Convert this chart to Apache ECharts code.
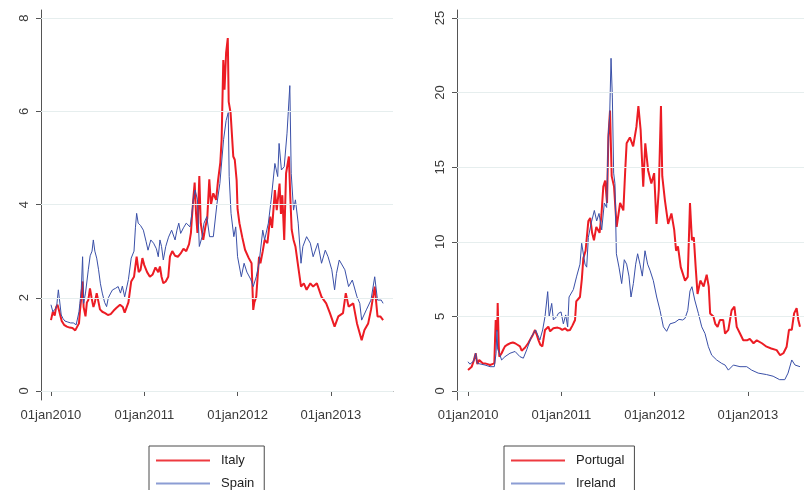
<!DOCTYPE html>
<html>
<head>
<meta charset="utf-8">
<script src="https://cdn.jsdelivr.net/npm/echarts@6/dist/echarts.min.js"></script>
<style>
  html, body { margin: 0; padding: 0; background: #ffffff; }
  #chart { width: 804px; height: 490px; }
</style>
</head>
<body>
<div id="chart"></div>
<script>
// Sovereign spreads, daily, 2010 to mid-2013. Each point is [year + fraction of year, spread].
const italy = [
  [2010.000,1.52],[2010.020,1.70],[2010.040,1.62],[2010.055,1.80],[2010.070,1.85],[2010.090,1.70],
  [2010.115,1.50],[2010.140,1.42],[2010.170,1.38],[2010.200,1.36],[2010.230,1.35],[2010.260,1.30],
  [2010.280,1.28],[2010.300,1.45],[2010.310,1.70],[2010.325,2.00],[2010.339,2.35],[2010.350,1.80],
  [2010.370,1.60],[2010.385,1.90],[2010.400,1.95],[2010.418,2.20],[2010.435,2.00],[2010.455,1.80],
  [2010.470,1.90],[2010.490,2.10],[2010.510,1.90],[2010.525,1.75],[2010.550,1.70],[2010.580,1.67],
  [2010.610,1.63],[2010.640,1.65],[2010.670,1.72],[2010.700,1.78],[2010.720,1.75],[2010.740,1.85],
  [2010.770,1.80],[2010.790,1.68],[2010.810,1.70],[2010.830,1.90],[2010.860,2.35],[2010.890,2.45],
  [2010.918,2.88],[2010.940,2.55],[2010.960,2.60],[2010.980,2.85],[2011.000,2.70],[2011.030,2.55],
  [2011.060,2.45],[2011.090,2.50],[2011.120,2.65],[2011.150,2.55],[2011.168,2.67],[2011.185,2.45],
  [2011.204,2.31],[2011.230,2.35],[2011.257,2.45],[2011.275,2.88],[2011.300,3.00],[2011.330,2.90],
  [2011.360,2.88],[2011.390,2.95],[2011.420,3.05],[2011.450,3.00],[2011.480,3.15],[2011.500,3.39],
  [2011.510,3.70],[2011.525,4.11],[2011.540,4.47],[2011.555,3.80],[2011.570,3.39],[2011.590,4.61],
  [2011.605,3.60],[2011.632,3.24],[2011.655,3.52],[2011.675,3.70],[2011.697,4.54],[2011.715,4.00],
  [2011.740,4.24],[2011.770,4.10],[2011.790,4.50],[2011.815,4.90],[2011.829,5.39],[2011.847,7.10],
  [2011.860,6.46],[2011.877,7.25],[2011.895,7.57],[2011.905,6.20],[2011.925,5.97],[2011.954,5.03],
  [2011.970,4.96],[2011.990,4.52],[2012.000,3.90],[2012.020,3.60],[2012.050,3.30],[2012.080,3.03],
  [2012.120,2.85],[2012.150,2.74],[2012.168,1.74],[2012.180,1.90],[2012.200,2.02],[2012.230,2.88],
  [2012.245,2.74],[2012.270,3.00],[2012.290,3.24],[2012.320,3.17],[2012.350,3.74],[2012.370,3.50],
  [2012.400,4.31],[2012.420,3.88],[2012.450,4.45],[2012.465,3.80],[2012.480,4.20],[2012.500,3.24],
  [2012.520,4.67],[2012.550,5.03],[2012.565,4.17],[2012.580,3.46],[2012.600,3.24],[2012.620,3.10],
  [2012.650,2.67],[2012.680,2.24],[2012.710,2.31],[2012.740,2.17],[2012.780,2.31],[2012.810,2.24],
  [2012.850,2.31],[2012.900,2.02],[2012.950,1.88],[2012.990,1.67],[2013.040,1.38],[2013.080,1.60],
  [2013.130,1.67],[2013.160,2.10],[2013.190,1.81],[2013.240,1.88],[2013.280,1.45],[2013.330,1.09],
  [2013.360,1.31],[2013.400,1.45],[2013.430,1.74],[2013.470,2.24],[2013.500,1.60],[2013.530,1.60],
  [2013.560,1.52]
];

const spain = [
  [2010.000,1.85],[2010.020,1.70],[2010.040,1.75],[2010.060,1.80],[2010.079,2.17],[2010.095,2.17],
  [2010.110,1.63],[2010.130,1.55],[2010.150,1.50],[2010.180,1.48],[2010.210,1.46],[2010.240,1.46],
  [2010.270,1.42],[2010.300,1.70],[2010.310,1.88],[2010.325,2.20],[2010.339,2.88],[2010.350,1.88],
  [2010.370,2.10],[2010.400,2.60],[2010.420,2.90],[2010.440,3.00],[2010.454,3.24],[2010.470,3.00],
  [2010.490,2.85],[2010.510,2.60],[2010.530,2.30],[2010.550,2.10],[2010.575,1.90],[2010.596,1.81],
  [2010.615,2.00],[2010.640,2.10],[2010.660,2.17],[2010.690,2.20],[2010.720,2.24],[2010.745,2.10],
  [2010.765,2.25],[2010.790,2.02],[2010.810,2.00],[2010.830,2.39],[2010.860,2.85],[2010.890,3.00],
  [2010.905,3.50],[2010.918,3.81],[2010.935,3.60],[2010.960,3.55],[2010.990,3.45],[2011.020,3.20],
  [2011.040,3.02],[2011.070,3.24],[2011.100,3.17],[2011.130,3.05],[2011.150,2.88],[2011.168,3.24],
  [2011.185,3.10],[2011.204,2.81],[2011.230,3.10],[2011.260,3.30],[2011.293,3.45],[2011.330,3.24],
  [2011.350,3.45],[2011.370,3.60],[2011.390,3.38],[2011.420,3.50],[2011.450,3.60],[2011.490,3.52],
  [2011.510,3.80],[2011.525,4.11],[2011.545,4.31],[2011.570,4.10],[2011.590,3.10],[2011.620,3.31],
  [2011.640,3.60],[2011.670,3.74],[2011.700,3.31],[2011.740,3.31],[2011.780,4.03],[2011.810,4.45],
  [2011.850,5.39],[2011.877,5.80],[2011.900,5.97],[2011.910,4.60],[2011.930,3.81],[2011.960,3.31],
  [2011.980,3.52],[2012.000,2.88],[2012.040,2.45],[2012.070,2.74],[2012.100,2.55],[2012.140,2.40],
  [2012.168,2.24],[2012.200,2.45],[2012.230,2.74],[2012.270,3.45],[2012.290,3.24],[2012.330,3.60],
  [2012.360,4.10],[2012.400,4.88],[2012.430,4.60],[2012.445,5.31],[2012.460,5.30],[2012.470,4.74],
  [2012.500,4.81],[2012.530,5.53],[2012.560,6.55],[2012.575,4.67],[2012.600,3.88],[2012.620,4.10],
  [2012.650,3.60],[2012.680,2.74],[2012.700,3.10],[2012.740,3.31],[2012.780,3.17],[2012.810,2.88],
  [2012.860,3.17],[2012.900,2.74],[2012.940,3.02],[2012.970,2.88],[2013.010,2.60],[2013.040,2.17],
  [2013.060,2.52],[2013.090,2.81],[2013.150,2.60],[2013.190,2.24],[2013.230,2.38],[2013.280,2.02],
  [2013.310,1.88],[2013.330,1.52],[2013.380,1.74],[2013.430,1.95],[2013.470,2.45],[2013.500,1.95],
  [2013.540,1.95],[2013.560,1.88]
];

const portugal = [
  [2010.000,1.41],[2010.020,1.35],[2010.040,1.63],[2010.060,2.00],[2010.082,2.53],[2010.100,1.80],
  [2010.120,2.08],[2010.140,2.00],[2010.160,1.85],[2010.182,1.85],[2010.210,1.80],[2010.236,1.74],
  [2010.260,1.80],[2010.282,1.85],[2010.290,3.50],[2010.297,4.76],[2010.305,4.00],[2010.314,4.30],
  [2010.318,5.90],[2010.325,6.00],[2010.330,3.00],[2010.336,2.30],[2010.360,2.53],[2010.380,2.80],
  [2010.396,2.99],[2010.420,3.10],[2010.450,3.20],[2010.480,3.25],[2010.504,3.20],[2010.530,3.10],
  [2010.557,2.99],[2010.575,2.70],[2010.593,2.65],[2010.610,2.90],[2010.629,2.99],[2010.645,3.20],
  [2010.664,3.42],[2010.690,3.70],[2010.718,4.09],[2010.735,3.80],[2010.754,3.42],[2010.775,3.10],
  [2010.797,2.99],[2010.810,3.50],[2010.825,4.09],[2010.840,4.20],[2010.861,4.31],[2010.880,4.00],
  [2010.897,4.09],[2010.915,4.20],[2010.932,4.25],[2010.960,4.25],[2010.986,4.20],[2011.010,4.10],
  [2011.040,4.20],[2011.065,4.05],[2011.093,4.09],[2011.120,4.40],[2011.147,4.76],[2011.160,6.00],
  [2011.175,6.10],[2011.200,6.30],[2011.220,7.50],[2011.236,8.90],[2011.260,9.40],[2011.290,11.40],
  [2011.310,11.60],[2011.330,10.60],[2011.350,10.10],[2011.375,11.00],[2011.410,10.60],[2011.430,11.80],
  [2011.450,13.70],[2011.470,14.10],[2011.490,12.60],[2011.504,17.00],[2011.522,18.80],[2011.540,14.40],
  [2011.565,13.70],[2011.593,11.00],[2011.630,12.60],[2011.665,12.10],[2011.685,14.80],[2011.700,16.60],
  [2011.735,17.00],[2011.770,16.40],[2011.805,17.70],[2011.826,19.10],[2011.850,17.50],[2011.878,13.70],
  [2011.900,16.60],[2011.930,14.80],[2011.965,13.90],[2011.995,14.60],[2012.020,11.20],[2012.045,13.50],
  [2012.068,19.10],[2012.082,14.40],[2012.110,12.80],[2012.145,11.20],[2012.180,11.90],[2012.210,10.80],
  [2012.230,9.40],[2012.250,9.70],[2012.280,8.30],[2012.326,7.40],[2012.355,7.65],[2012.379,12.60],
  [2012.400,10.10],[2012.420,10.30],[2012.440,8.30],[2012.460,6.50],[2012.490,7.40],[2012.525,7.00],
  [2012.558,7.80],[2012.580,7.00],[2012.595,5.20],[2012.630,5.00],[2012.650,4.50],[2012.675,4.30],
  [2012.700,4.76],[2012.735,4.76],[2012.755,3.85],[2012.790,4.10],[2012.825,5.40],[2012.855,5.65],
  [2012.880,4.30],[2012.915,3.85],[2012.950,3.40],[2012.990,3.40],[2013.020,3.50],[2013.060,3.20],
  [2013.095,3.40],[2013.150,3.20],[2013.200,2.97],[2013.250,2.85],[2013.308,2.74],[2013.345,2.40],
  [2013.380,2.53],[2013.415,2.97],[2013.440,4.10],[2013.470,4.10],[2013.495,5.20],[2013.522,5.55],
  [2013.540,4.76],[2013.558,4.30]
];

const ireland = [
  [2010.000,1.96],[2010.020,1.80],[2010.040,1.74],[2010.060,2.00],[2010.082,2.53],[2010.100,1.85],
  [2010.140,1.80],[2010.182,1.74],[2010.236,1.63],[2010.282,1.63],[2010.300,2.50],[2010.310,4.09],
  [2010.318,2.80],[2010.336,2.53],[2010.360,2.08],[2010.396,2.30],[2010.450,2.53],[2010.504,2.65],
  [2010.557,2.30],[2010.593,2.20],[2010.629,2.76],[2010.680,3.65],[2010.725,4.09],[2010.770,3.42],
  [2010.800,4.09],[2010.825,4.98],[2010.854,6.66],[2010.870,4.98],[2010.897,5.87],[2010.915,4.76],
  [2010.950,4.98],[2010.968,5.20],[2010.997,5.30],[2011.022,4.50],[2011.047,5.10],[2011.068,4.30],
  [2011.083,6.30],[2011.129,6.80],[2011.165,7.70],[2011.200,8.50],[2011.218,9.90],[2011.254,8.50],
  [2011.272,8.30],[2011.290,10.30],[2011.318,11.20],[2011.354,12.10],[2011.379,11.40],[2011.404,11.90],
  [2011.433,10.80],[2011.461,12.60],[2011.486,12.30],[2011.504,17.20],[2011.518,18.40],[2011.533,22.30],
  [2011.547,19.70],[2011.561,14.60],[2011.575,13.90],[2011.590,9.20],[2011.618,8.30],[2011.647,7.20],
  [2011.675,8.80],[2011.700,8.50],[2011.725,7.70],[2011.747,6.30],[2011.772,7.20],[2011.797,8.50],
  [2011.818,9.20],[2011.843,8.50],[2011.868,7.70],[2011.897,9.40],[2011.925,8.50],[2011.950,8.10],
  [2011.986,7.40],[2012.022,6.30],[2012.058,5.40],[2012.094,4.30],[2012.129,4.00],[2012.165,4.50],
  [2012.218,4.60],[2012.261,4.80],[2012.300,4.76],[2012.326,4.87],[2012.355,5.40],[2012.379,6.70],
  [2012.400,6.99],[2012.430,6.10],[2012.469,5.20],[2012.505,4.30],[2012.540,3.85],[2012.576,2.97],
  [2012.612,2.40],[2012.665,2.08],[2012.719,1.85],[2012.755,1.74],[2012.790,1.40],[2012.844,1.74],
  [2012.915,1.63],[2012.987,1.63],[2013.040,1.40],[2013.110,1.20],[2013.200,1.10],[2013.270,0.99],
  [2013.340,0.76],[2013.395,0.76],[2013.430,1.20],[2013.470,2.08],[2013.505,1.74],[2013.558,1.63]
];

// Axis ticks and their labels
const xTicks = [2010, 2011, 2012, 2013];
const xTickLabels = ['01jan2010', '01jan2011', '01jan2012', '01jan2013'];
const yTicksLeft = [0, 2, 4, 6, 8];
const yTicksRight = [0, 5, 10, 15, 20, 25];
const legendLeft = ['Italy', 'Spain'];
const legendRight = ['Portugal', 'Ireland'];

const RED = '#ec1c24';
const BLUE = '#3a50a8';
const KEY_RED = '#ee3a40';
const KEY_BLUE = '#8c9dd4';
const AXIS = '#555555';
const GRID = '#e6eeee';
const FONT = '"Liberation Sans", Arial, sans-serif';

function xAxisFor(gridIndex, min, max) {
  return {
    type: 'value', gridIndex, min, max,
    axisLine: { show: true, lineStyle: { color: AXIS, width: 1 } },
    axisTick: { show: true, customValues: xTicks, length: 5, lineStyle: { color: AXIS } },
    axisLabel: {
      customValues: xTicks, margin: 9, color: '#3a3a3a', fontSize: 13, fontFamily: FONT,
      formatter: v => xTickLabels[xTicks.indexOf(Math.round(v))] || ''
    },
    splitLine: { show: false }
  };
}

function yAxisFor(gridIndex, min, max, ticks) {
  return {
    type: 'value', gridIndex, min, max,
    axisLine: { show: true, lineStyle: { color: AXIS, width: 1 } },
    axisTick: { show: true, customValues: ticks, length: 5, lineStyle: { color: AXIS } },
    axisLabel: {
      customValues: ticks, rotate: 90, margin: 10, color: '#3a3a3a', fontSize: 13, fontFamily: FONT
    },
    splitLine: { show: false }
  };
}

function gridLines(ticks) {
  return {
    silent: true, symbol: ['none', 'none'], animation: false,
    label: { show: false },
    lineStyle: { color: GRID, width: 1, type: 'solid' },
    emphasis: { disabled: true },
    data: ticks.map(v => ({ yAxis: v }))
  };
}

function lineSeries(name, data, color, width, axisIndex, extra) {
  return Object.assign({
    name, type: 'line', data, xAxisIndex: axisIndex, yAxisIndex: axisIndex,
    symbol: 'none', showSymbol: false, animation: false,
    lineStyle: { color, width }, itemStyle: { color }
  }, extra || {});
}

// Boxed key below each panel: a thin coloured bar per series, one row each.
function legendFor(names, left, padRight) {
  return {
    data: [
      { name: names[0], icon: 'rect', itemStyle: { color: KEY_RED } },
      { name: names[1], icon: 'rect', itemStyle: { color: KEY_BLUE } }
    ],
    orient: 'vertical', left, top: 446, height: 120,
    itemWidth: 54, itemHeight: 2, itemGap: 10,
    padding: [8, padRight, 30, 7],
    borderColor: '#4a4a4a', borderWidth: 1, backgroundColor: '#ffffff',
    selectedMode: false,
    textStyle: { color: '#222222', fontSize: 13, fontFamily: FONT, padding: [0, 0, 0, 6] }
  };
}

const chart = echarts.init(document.getElementById('chart'), null, { renderer: 'canvas' });
chart.setOption({
  backgroundColor: '#ffffff',
  animation: false,
  grid: [
    { left: 41, right: 411, top: 10, bottom: 90 },
    { left: 457, right: 0, top: 10, bottom: 90 }
  ],
  xAxis: [
    xAxisFor(0, 2009.893, 2013.666),
    xAxisFor(1, 2009.882, 2013.601)
  ],
  yAxis: [
    yAxisFor(0, -0.193, 8.172, yTicksLeft),
    yAxisFor(1, -0.603, 25.536, yTicksRight)
  ],
  legend: [
    legendFor(legendLeft, 149, 10),
    legendFor(legendRight, 504, 10)
  ],
  series: [
    lineSeries('Italy', italy, RED, 2, 0, { markLine: gridLines(yTicksLeft), z: 2 }),
    lineSeries('Spain', spain, BLUE, 1, 0, { z: 3 }),
    lineSeries('Portugal', portugal, RED, 2, 1, { markLine: gridLines(yTicksRight), z: 2 }),
    lineSeries('Ireland', ireland, BLUE, 1, 1, { z: 3 })
  ]
});
</script>
</body>
</html>
